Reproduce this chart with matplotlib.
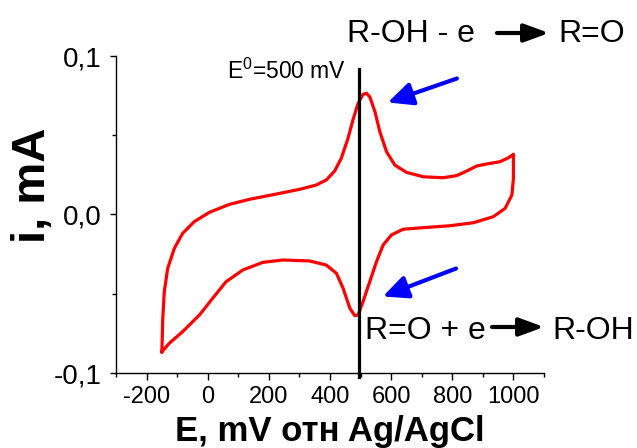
import matplotlib
matplotlib.use('Agg')
import matplotlib.pyplot as plt
from matplotlib.ticker import MultipleLocator

plt.rcParams['font.family'] = ['Liberation Sans', 'DejaVu Sans']
plt.rcParams['mathtext.fontset'] = 'custom'
plt.rcParams['mathtext.rm'] = 'Liberation Sans'
plt.rcParams['mathtext.it'] = 'Liberation Sans'
plt.rcParams['axes.unicode_minus'] = False

# cyclic voltammogram (mV, mA)
# forward (anodic) scan from -150 mV to 1000 mV
E_fwd = [-150, -147, -142, -131, -109, -82, -44, 6, 71, 137, 224, 301, 355,
         388, 415, 437, 459, 475, 492, 508, 519, 530, 547, 563, 585, 612, 650,
         705, 770, 814, 847, 880, 913, 956, 984, 1000]
I_fwd = [-0.0866, -0.0655, -0.0487, -0.034, -0.0213, -0.0119, -0.0045, 0.0014,
         0.0064, 0.0096, 0.0129, 0.0159, 0.0186, 0.0218, 0.0274, 0.0355,
         0.0481, 0.0596, 0.0702, 0.0758, 0.0765, 0.0743, 0.0649, 0.0522,
         0.0396, 0.0312, 0.0266, 0.0238, 0.0232, 0.0245, 0.0274, 0.0306,
         0.0319, 0.0333, 0.0358, 0.038]
# reverse (cathodic) scan back to -150 mV
E_rev = [1000, 995, 973, 934, 869, 792, 705, 639, 601, 574, 552, 530, 508,
         492, 481, 465, 443, 421, 388, 333, 246, 180, 115, 60, 16, -27, -82,
         -126, -150]
I_rev = [0.0228, 0.0123, 0.0039, -0.0014, -0.0052, -0.0071, -0.0083, -0.0093,
         -0.0129, -0.0192, -0.0298, -0.0424, -0.055, -0.0634, -0.0638, -0.0592,
         -0.0466, -0.0371, -0.0319, -0.0293, -0.0287, -0.0302, -0.035, -0.0424,
         -0.0529, -0.0634, -0.0739, -0.0813, -0.0866]

e0_line = 495
x_ticks = [-200, 0, 200, 400, 600, 800, 1000]
y_ticks = [-0.1, 0.0, 0.1]
y_tick_labels = ['-0,1', '0,0', '0,1']

W, H = 637, 448
fig = plt.figure(figsize=(W / 100, H / 100), dpi=100)
ax = fig.add_axes([116 / W, 75 / H, 428 / W, 317 / H])

ax.plot(E_fwd + E_rev, I_fwd + I_rev, color='#ff0000', lw=2.3,
        solid_joinstyle='round')
ax.plot([e0_line, e0_line], [-0.1025, 0.092], color='black', lw=2.3,
        clip_on=False)

ax.set_xlim(-300, 1100)
ax.set_ylim(-0.1, 0.1)
for s in ['top', 'right']:
    ax.spines[s].set_visible(False)
for s in ['left', 'bottom']:
    ax.spines[s].set_linewidth(1.0)

ax.set_xticks(x_ticks)
ax.xaxis.set_minor_locator(MultipleLocator(100))
ax.set_yticks(y_ticks)
ax.set_yticklabels(y_tick_labels)
ax.yaxis.set_minor_locator(MultipleLocator(0.05))
ax.tick_params(axis='x', which='major', length=5, width=1, labelsize=17, pad=4)
ax.tick_params(axis='x', which='minor', length=3, width=1)
ax.tick_params(axis='y', which='major', length=4, width=1, labelsize=20, pad=6)
ax.tick_params(axis='y', which='minor', length=3, width=1)


def fx(px):
    return px / W


def fy(py):
    return 1 - py / H


fig.text(fx(33), fy(185), 'i, mA', fontsize=34, fontweight='bold',
         rotation=90, ha='center', va='center')
fig.text(fx(330), fy(441), 'E, mV отн Ag/AgCl', fontsize=25,
         fontweight='bold', ha='center', va='baseline')

fig.text(fx(227), fy(79), r'E$^0$=500 mV', fontsize=16.5, va='baseline')

# reaction labels
fig.text(fx(347), fy(42), 'R-OH - e', fontsize=23, va='baseline')
fig.text(fx(558), fy(42), 'R=O', fontsize=23, va='baseline')
fig.text(fx(365), fy(339), 'R=O + e', fontsize=23, va='baseline')
fig.text(fx(552), fy(339), 'R-OH', fontsize=23, va='baseline')

black_arrow = dict(arrowstyle='-|>,head_length=0.6,head_width=0.22',
                   lw=3, color='black', mutation_scale=25,
                   shrinkA=0, shrinkB=0)
ax.annotate('', xy=(549, H - 33), xytext=(497, H - 33),
            xycoords='figure pixels', textcoords='figure pixels',
            arrowprops=black_arrow)
ax.annotate('', xy=(544, H - 327), xytext=(492, H - 327),
            xycoords='figure pixels', textcoords='figure pixels',
            arrowprops=black_arrow)

blue_arrow = dict(arrowstyle='-|>,head_length=0.6,head_width=0.28',
                  lw=3, color='#0000ff', mutation_scale=25,
                  shrinkA=0, shrinkB=0)
ax.annotate('', xy=(589, 0.0707), xytext=(815, 0.0858),
            arrowprops=blue_arrow, annotation_clip=False)
ax.annotate('', xy=(573, -0.0517), xytext=(812, -0.0341),
            arrowprops=blue_arrow, annotation_clip=False)

fig.savefig('out.png', dpi=100)
